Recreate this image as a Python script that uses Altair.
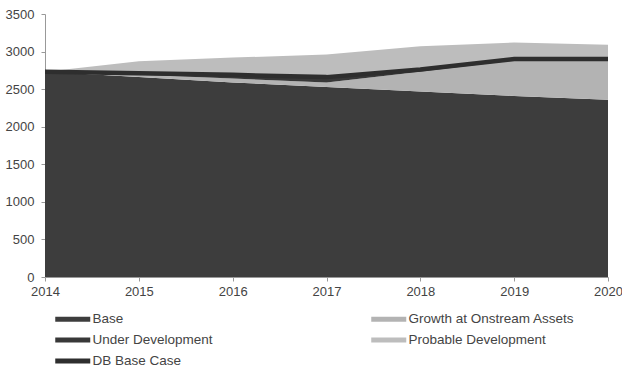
import altair as alt
import pandas as pd

years = [2014, 2015, 2016, 2017, 2018, 2019, 2020]
base = [2730, 2660, 2590, 2530, 2470, 2410, 2360]
growth = [0, 30, 50, 60, 260, 470, 520]
under_dev = [0, 20, 50, 70, 30, 20, 20]
probable = [0, 160, 230, 300, 310, 220, 190]
db_base_case = [2730, 2710, 2690, 2660, 2760, 2900, 2900]
y_ticks = [0, 500, 1000, 1500, 2000, 2500, 3000, 3500]

# legend fills column by column: left column first, then right column
legend_order = ["Base", "Under Development", "DB Base Case",
                "Growth at Onstream Assets", "Probable Development"]
legend_colors = ["#3d3d3d", "#383838", "#2e2e2e", "#b3b3b3", "#bdbdbd"]

stack_order = [("Base", base, 0), ("Growth at Onstream Assets", growth, 1),
               ("Under Development", under_dev, 2), ("Probable Development", probable, 3)]
rows = []
for name, vals, idx in stack_order:
    for y, v in zip(years, vals):
        rows.append({"year": y, "value": v, "series": name, "idx": idx})
area_df = pd.DataFrame(rows)
line_df = pd.DataFrame({"year": years, "value": db_base_case, "series": "DB Base Case"})

FONT = "Liberation Sans"

color = alt.Color(
    "series:N",
    scale=alt.Scale(domain=legend_order, range=legend_colors),
    legend=alt.Legend(
        title=None, orient="none", legendX=18.75, legendY=296, columns=2,
        columnPadding=158, rowPadding=5, labelLimit=300,
        symbolType="M-2,-0.28L2,-0.28L2,0.28L-2,0.28Z", symbolSize=306.25,
        symbolStrokeWidth=0, labelFontSize=13.5, labelColor="#444444",
        labelFont=FONT, labelOffset=10.75,
    ),
)

x_axis = alt.Axis(title=None, values=years, format="d", grid=False,
                  tickSize=4, labelPadding=4, domainColor="#999999",
                  tickColor="#999999", labelColor="#444444",
                  labelFontSize=13, labelFont=FONT, labelOverlap=False,
                  labelFlush=False)
y_axis = alt.Axis(title=None, values=y_ticks, format="d",
                  grid=False, tickSize=4, labelPadding=7,
                  domainColor="#999999", tickColor="#999999",
                  labelColor="#444444", labelFontSize=13, labelFont=FONT,
                  labelOverlap=False, labelFlush=False)
x_scale = alt.Scale(domain=[2014, 2020], nice=False)
y_scale = alt.Scale(domain=[0, 3500], nice=False)

areas = alt.Chart(area_df).mark_area(interpolate="linear").encode(
    x=alt.X("year:Q", scale=x_scale, axis=x_axis),
    y=alt.Y("value:Q", stack="zero", scale=y_scale, axis=y_axis),
    color=color, order=alt.Order("idx:Q"))

line = alt.Chart(line_df).mark_line(strokeWidth=4.5, color="#2e2e2e").encode(
    x=alt.X("year:Q", scale=x_scale, axis=x_axis),
    y=alt.Y("value:Q", stack=None, scale=y_scale, axis=y_axis),
    color=color)

chart = alt.layer(areas, line).properties(
    width=563, height=263,
    autosize=alt.AutoSizeParams(type="none"),
    padding={"left": 45, "top": 14, "right": 14, "bottom": 93},
).configure_view(stroke=None)

chart.save("out.html", embed_options={"renderer": "svg", "actions": False})
